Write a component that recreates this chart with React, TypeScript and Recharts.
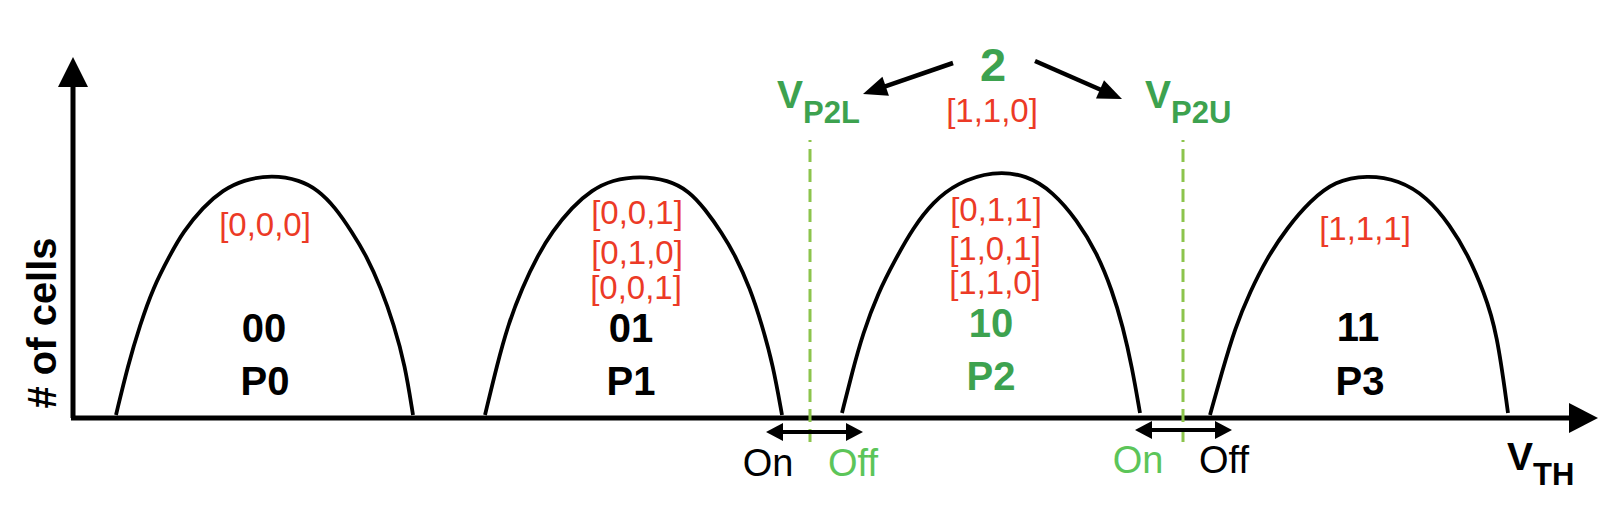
import React from 'react';
import { ComposedChart, Line, XAxis, YAxis, ReferenceLine, ReferenceDot } from 'recharts';

// ---------- data (x: V_TH position, y: # of cells) ----------
const p0 = [
  { x: 44, y: 3 }, { x: 56, y: 53 }, { x: 68, y: 93 }, { x: 81, y: 130 }, { x: 98, y: 163 },
  { x: 111, y: 186 }, { x: 131, y: 211 }, { x: 151, y: 228 }, { x: 171, y: 238 }, { x: 200, y: 243 },
  { x: 228, y: 238 }, { x: 246, y: 228 }, { x: 263, y: 211 }, { x: 280, y: 186 }, { x: 294, y: 163 },
  { x: 309, y: 130 }, { x: 322, y: 93 }, { x: 333, y: 53 }, { x: 341, y: 3 },
];
const p1 = [
  { x: 413, y: 3 }, { x: 425, y: 53 }, { x: 436, y: 93 }, { x: 450, y: 130 }, { x: 466, y: 163 },
  { x: 480, y: 186 }, { x: 500, y: 211 }, { x: 520, y: 228 }, { x: 540, y: 238 }, { x: 568, y: 242 },
  { x: 596, y: 238 }, { x: 617, y: 227 }, { x: 633, y: 209 }, { x: 650, y: 185 }, { x: 663, y: 163 },
  { x: 678, y: 130 }, { x: 690, y: 93 }, { x: 701, y: 53 }, { x: 710, y: 3 },
];
const p2 = [
  { x: 770, y: 5 }, { x: 780, y: 45 }, { x: 791, y: 85 }, { x: 806, y: 125 }, { x: 823, y: 158 },
  { x: 841, y: 190 }, { x: 861, y: 216 }, { x: 885, y: 235 }, { x: 921, y: 247 }, { x: 955, y: 243 },
  { x: 981, y: 226 }, { x: 1005, y: 198 }, { x: 1025, y: 165 }, { x: 1040, y: 128 }, { x: 1051, y: 91 },
  { x: 1060, y: 51 }, { x: 1068, y: 5 },
];
const p3 = [
  { x: 1138, y: 3 }, { x: 1150, y: 46 }, { x: 1163, y: 90 }, { x: 1178, y: 126 }, { x: 1195, y: 160 },
  { x: 1215, y: 190 }, { x: 1238, y: 217 }, { x: 1263, y: 237 }, { x: 1295, y: 243 }, { x: 1327, y: 238 },
  { x: 1355, y: 221 }, { x: 1378, y: 193 }, { x: 1396, y: 163 }, { x: 1412, y: 126 }, { x: 1425, y: 86 },
  { x: 1436, y: 5 },
];
const curves = [p0, p1, p2, p3];

const vectorLabels = [
  { x: 193, y: 194, text: '[0,0,0]' },
  { x: 565, y: 206, text: '[0,0,1]' },
  { x: 565, y: 166, text: '[0,1,0]' },
  { x: 564, y: 131, text: '[0,0,1]' },
  { x: 924, y: 209, text: '[0,1,1]' },
  { x: 923, y: 170, text: '[1,0,1]' },
  { x: 923, y: 136, text: '[1,1,0]' },
  { x: 1293, y: 190, text: '[1,1,1]' },
  { x: 920, y: 308, text: '[1,1,0]' },
];
const codeLabels = [
  { x: 192, y: 90, text: '00', green: false },
  { x: 559, y: 90, text: '01', green: false },
  { x: 919, y: 95, text: '10', green: true },
  { x: 1286, y: 91, text: '11', green: false },
];
const stateLabels = [
  { x: 193, y: 37, text: 'P0', green: false },
  { x: 559, y: 37, text: 'P1', green: false },
  { x: 919, y: 42, text: 'P2', green: true },
  { x: 1288, y: 37, text: 'P3', green: false },
];
const readLevels = [
  { x: 738, name: 'V', sub: 'P2L', labelX: 705 },
  { x: 1111, name: 'V', sub: 'P2U', labelX: 1073 },
];
const onOffArrows = [
  { from: 694, to: 791, y: -14 },
  { from: 1063, to: 1160, y: -12 },
];
const onOffLabels = [
  { x: 696, y: -44, text: 'On', green: false },
  { x: 781, y: -44, text: 'Off', green: true },
  { x: 1066, y: -41, text: 'On', green: true },
  { x: 1152, y: -41, text: 'Off', green: false },
];
const pointerArrows = [
  { x1: 881, y1: 355, x2: 791, y2: 324 },
  { x1: 963, y1: 357, x2: 1050, y2: 319 },
];
const levelLabel = { x: 921, y: 354, text: '2' };
const axisLabels = { yTitle: '# of cells', xName: 'V', xSub: 'TH' };

// ---------- style ----------
const FONT = '"Liberation Sans", Arial, Helvetica, sans-serif';
const RED = '#ec3a26';
const GREEN = '#3da24f';
const LIGHT_GREEN = '#5cc559';
const DASH_GREEN = '#8cc44c';

type ArrowOpts = { head: number; half: number; both?: boolean; color: string; width: number };

const arrowShape = (o: ArrowOpts) => (props: any) => {
  const { x1, y1, x2, y2 } = props;
  const dx = x2 - x1;
  const dy = y2 - y1;
  const len = Math.hypot(dx, dy) || 1;
  const ux = dx / len;
  const uy = dy / len;
  const nx = -uy;
  const ny = ux;
  const headPts = (tx: number, ty: number, sx: number, sy: number) => {
    const bx = tx - sx * o.head;
    const by = ty - sy * o.head;
    return `${tx},${ty} ${bx + nx * o.half},${by + ny * o.half} ${bx - nx * o.half},${by - ny * o.half}`;
  };
  const sx0 = o.both ? x1 + ux * (o.head - 2) : x1;
  const sy0 = o.both ? y1 + uy * (o.head - 2) : y1;
  const ex0 = x2 - ux * (o.head - 2);
  const ey0 = y2 - uy * (o.head - 2);
  return (
    <g>
      <line x1={sx0} y1={sy0} x2={ex0} y2={ey0} stroke={o.color} strokeWidth={o.width} />
      <polygon points={headPts(x2, y2, ux, uy)} fill={o.color} />
      {o.both && <polygon points={headPts(x1, y1, -ux, -uy)} fill={o.color} />}
    </g>
  );
};

type TextOpts = {
  text: string;
  color: string;
  size: number;
  weight?: string | number;
  anchor?: 'start' | 'middle' | 'end';
  rotate?: number;
  sub?: string;
  subSize?: number;
};

const textShape = (t: TextOpts) => (p: any) => (
  <text
    x={p.cx}
    y={p.cy}
    dy="0.36em"
    textAnchor={t.anchor ?? 'middle'}
    fill={t.color}
    fontSize={t.size}
    fontWeight={t.weight ?? 'normal'}
    fontFamily={FONT}
    transform={t.rotate ? `rotate(${t.rotate} ${p.cx} ${p.cy})` : undefined}
  >
    {t.text}
    {t.sub && (
      <tspan fontSize={t.subSize} dy={15}>
        {t.sub}
      </tspan>
    )}
  </text>
);

export default function App() {
  return (
    <div style={{ position: 'absolute', left: 0, top: 0, width: 1618, height: 516, background: '#fff' }}>
      <ComposedChart width={1618} height={516} margin={{ top: 0, right: 0, bottom: 0, left: 0 }}>
        <XAxis type="number" dataKey="x" domain={[-72, 1546]} hide allowDataOverflow />
        <YAxis type="number" dataKey="y" domain={[-98, 418]} hide allowDataOverflow />

        {/* axes with arrowheads */}
        <ReferenceLine
          segment={[{ x: 1, y: 0 }, { x: 1, y: 361 }]}
          ifOverflow="visible"
          shape={arrowShape({ head: 30, half: 15, color: '#000', width: 5 })}
        />
        <ReferenceLine
          segment={[{ x: -1, y: 0 }, { x: 1526, y: 0 }]}
          ifOverflow="visible"
          shape={arrowShape({ head: 29, half: 15, color: '#000', width: 5 })}
        />

        {/* read reference voltages */}
        {readLevels.map((r, i) => (
          <ReferenceLine
            key={`rl${i}`}
            segment={[{ x: r.x, y: -24 }, { x: r.x, y: 278 }]}
            ifOverflow="visible"
            stroke={DASH_GREEN}
            strokeWidth={3}
            strokeDasharray="13 7"
          />
        ))}

        {/* distributions */}
        {curves.map((c, i) => (
          <Line
            key={`c${i}`}
            data={c}
            dataKey="y"
            type="basis"
            stroke="#000"
            strokeWidth={3.8}
            dot={false}
            activeDot={false}
            isAnimationActive={false}
          />
        ))}

        {/* on/off double arrows */}
        {onOffArrows.map((a, i) => (
          <ReferenceLine
            key={`oa${i}`}
            segment={[{ x: a.from, y: a.y }, { x: a.to, y: a.y }]}
            ifOverflow="visible"
            shape={arrowShape({ head: 17, half: 9, both: true, color: '#000', width: 4 })}
          />
        ))}

        {/* pointer arrows from level "2" */}
        {pointerArrows.map((a, i) => (
          <ReferenceLine
            key={`pa${i}`}
            segment={[{ x: a.x1, y: a.y1 }, { x: a.x2, y: a.y2 }]}
            ifOverflow="visible"
            shape={arrowShape({ head: 24, half: 10, color: '#000', width: 4.5 })}
          />
        ))}

        {/* texts */}
        {vectorLabels.map((l, i) => (
          <ReferenceDot key={`v${i}`} x={l.x} y={l.y} r={0} ifOverflow="visible"
            shape={textShape({ text: l.text, color: RED, size: 33 })} />
        ))}
        {codeLabels.map((l, i) => (
          <ReferenceDot key={`cd${i}`} x={l.x} y={l.y} r={0} ifOverflow="visible"
            shape={textShape({ text: l.text, color: l.green ? GREEN : '#000', size: 40, weight: 'bold' })} />
        ))}
        {stateLabels.map((l, i) => (
          <ReferenceDot key={`st${i}`} x={l.x} y={l.y} r={0} ifOverflow="visible"
            shape={textShape({ text: l.text, color: l.green ? GREEN : '#000', size: 40, weight: 'bold' })} />
        ))}
        <ReferenceDot x={levelLabel.x} y={levelLabel.y} r={0} ifOverflow="visible"
          shape={textShape({ text: levelLabel.text, color: GREEN, size: 47, weight: 'bold' })} />
        {readLevels.map((r, i) => (
          <ReferenceDot key={`rt${i}`} x={r.labelX} y={324} r={0} ifOverflow="visible"
            shape={textShape({ text: r.name, sub: r.sub, subSize: 31, color: GREEN, size: 39, weight: 'bold', anchor: 'start' })} />
        ))}
        {onOffLabels.map((l, i) => (
          <ReferenceDot key={`oo${i}`} x={l.x} y={l.y} r={0} ifOverflow="visible"
            shape={textShape({ text: l.text, color: l.green ? LIGHT_GREEN : '#000', size: 38 })} />
        ))}
        <ReferenceDot x={-30} y={95} r={0} ifOverflow="visible"
          shape={textShape({ text: axisLabels.yTitle, color: '#000', size: 40, weight: 'bold', rotate: -90 })} />
        <ReferenceDot x={1435} y={-38} r={0} ifOverflow="visible"
          shape={textShape({ text: axisLabels.xName, sub: axisLabels.xSub, subSize: 31, color: '#000', size: 39, weight: 'bold', anchor: 'start' })} />
      </ComposedChart>
    </div>
  );
}
